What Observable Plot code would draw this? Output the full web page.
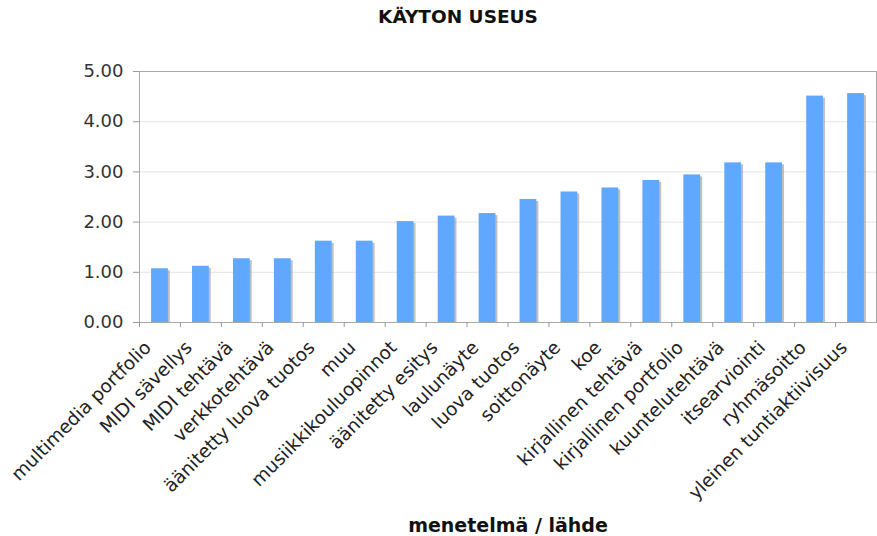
<!DOCTYPE html>
<html><head><meta charset="utf-8">
<script src="https://cdn.jsdelivr.net/npm/d3@7"></script>
<script src="https://cdn.jsdelivr.net/npm/@observablehq/plot@0.6"></script>
<style>html,body{margin:0;padding:0;background:#fff;}</style>
</head><body><div id="chart"></div>
<script>
const categories = [
  "multimedia portfolio", "MIDI sävellys", "MIDI tehtävä", "verkkotehtävä",
  "äänitetty luova tuotos", "muu", "musiikkikouluopinnot", "äänitetty esitys",
  "laulunäyte", "luova tuotos", "soittonäyte", "koe", "kirjallinen tehtävä",
  "kirjallinen portfolio", "kuuntelutehtävä", "itsearviointi", "ryhmäsoitto",
  "yleinen tuntiaktiivisuus"
];
const values = [1.07, 1.12, 1.27, 1.27, 1.62, 1.62, 2.01, 2.12, 2.17, 2.45, 2.60, 2.68, 2.83, 2.94, 3.18, 3.18, 4.51, 4.56];
const yTicks = [0, 1, 2, 3, 4, 5];
const title = "KÄYTON USEUS";
const xTitle = "menetelmä / lähde";

const data = categories.map((c, i) => ({c, v: values[i]}));
const step = (877 - 1 - 139) / categories.length;

const chart = Plot.plot({
  width: 877, height: 536,
  marginLeft: 139, marginRight: 1, marginTop: 71, marginBottom: 214,
  style: {fontFamily: "'DejaVu Sans', Verdana, sans-serif", background: "#fff", color: "#222"},
  x: {domain: categories, paddingInner: 0.59, paddingOuter: 0.295, round: false, label: null, axis: null},
  y: {domain: [0, 5], label: null, axis: null},
  marks: [
    Plot.gridY(yTicks, {stroke: "#e4e4e4", strokeOpacity: 1}),
    Plot.barY(data, {x: "c", y: "v", fill: "#8c8c8c", fillOpacity: 0.55, dx: 2, dy: 2, clip: "frame"}),
    Plot.barY(data, {x: "c", y: "v", fill: "#60a8ff"}),
    Plot.frame({stroke: "#a8a8a8"}),
    Plot.axisY({ticks: yTicks, tickFormat: d => d.toFixed(2), tickSize: 6, tickPadding: 10, fontSize: 18, stroke: "#999", fill: "#333", label: null}),
    Plot.axisX({tickSize: 5, tickFormat: () => "", dx: -step / 2, stroke: "#999", label: null}),
    Plot.axisX({tickSize: 0, tickPadding: 22, dx: -12, tickRotate: -45, fontSize: 18.5, fill: "#222", label: null}),
    Plot.text([title], {text: d => d, frameAnchor: "top", lineAnchor: "middle", dx: -50, dy: -54, fontWeight: "bold", fontSize: 18.5, fill: "#111"}),
    Plot.text([xTitle], {text: d => d, frameAnchor: "bottom", lineAnchor: "middle", dy: 203, fontWeight: "bold", fontSize: 19, fill: "#111"})
  ]
});
document.getElementById("chart").appendChild(chart);
</script>
</body></html>
